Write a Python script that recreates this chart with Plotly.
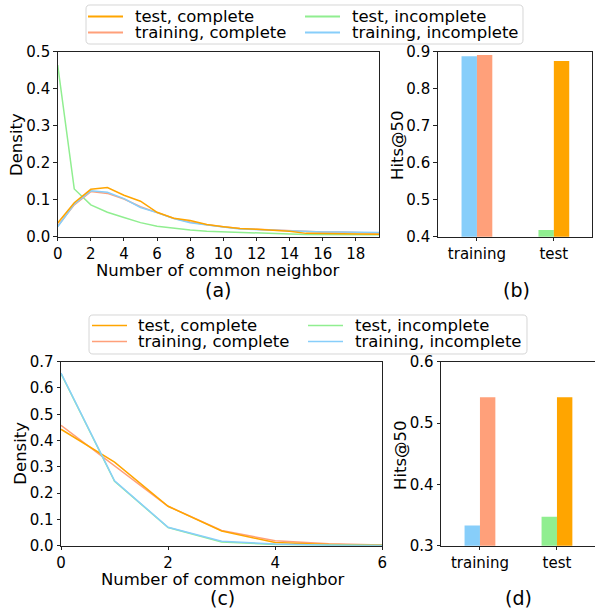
import plotly.graph_objects as go

W, H = 595, 609
FONT = "DejaVu Sans"

# ---------------- data ----------------
# (a) density of number of common neighbors (dataset 1)
cn_a = list(range(21))
a_test_complete = [0.037, 0.092, 0.128, 0.133, 0.112, 0.096, 0.066, 0.050, 0.044, 0.033, 0.027,
                   0.022, 0.020, 0.017, 0.015, 0.009, 0.008, 0.008, 0.007, 0.006, 0.006]
a_train_complete = [0.029, 0.086, 0.122, 0.117, 0.102, 0.081, 0.065, 0.050, 0.040, 0.032, 0.027,
                    0.022, 0.020, 0.018, 0.016, 0.014, 0.013, 0.013, 0.011, 0.010, 0.010]
a_test_incomplete = [0.464, 0.129, 0.086, 0.066, 0.052, 0.038, 0.028, 0.022, 0.018, 0.015, 0.013,
                     0.011, 0.009, 0.008, 0.007, 0.006, 0.006, 0.006, 0.006, 0.005, 0.005]
a_train_incomplete = [0.027, 0.088, 0.124, 0.120, 0.103, 0.079, 0.065, 0.049, 0.038, 0.031, 0.026,
                      0.021, 0.019, 0.018, 0.016, 0.014, 0.013, 0.013, 0.012, 0.011, 0.011]

# (b) Hits@50 (dataset 1)
categories = ["training", "test"]
b_incomplete = [0.888, 0.418]
b_complete = [0.891, 0.875]

# (c) density of number of common neighbors (dataset 2)
cn_c = [0, 1, 2, 3, 4, 5, 6]
c_test_complete = [0.443, 0.318, 0.150, 0.056, 0.012, 0.005, 0.002]
c_train_complete = [0.458, 0.305, 0.150, 0.058, 0.019, 0.007, 0.003]
c_test_incomplete = [0.655, 0.245, 0.069, 0.014, 0.005, 0.002, 0.001]
c_train_incomplete = [0.657, 0.247, 0.070, 0.017, 0.006, 0.002, 0.001]

# (d) Hits@50 (dataset 2)
d_incomplete = [0.333, 0.347]
d_complete = [0.542, 0.542]

ORANGE = "#FFA500"
SALMON = "#FFA07A"
GREEN = "#90EE90"
BLUE = "#87CEFA"

series_names = ["test, complete", "training, complete", "test, incomplete", "training, incomplete"]
series_colors = [ORANGE, SALMON, GREEN, BLUE]


def X(p):
    return p / W


def Y(p):
    return 1 - p / H


fig = go.Figure()

# (a) lines
for name, vals, col in [("test, incomplete", a_test_incomplete, GREEN),
                        ("training, complete", a_train_complete, SALMON),
                        ("training, incomplete", a_train_incomplete, BLUE),
                        ("test, complete", a_test_complete, ORANGE)]:
    fig.add_trace(go.Scatter(x=cn_a, y=vals, mode="lines", name=name, showlegend=False,
                             line=dict(color=col, width=1.5), xaxis="x", yaxis="y"))

# (b) bars
fig.add_trace(go.Bar(x=[0, 1], y=b_incomplete, name="incomplete", showlegend=False,
                     marker=dict(color=[BLUE, GREEN], line=dict(width=0)),
                     width=0.2, offset=-0.2, xaxis="x2", yaxis="y2"))
fig.add_trace(go.Bar(x=[0, 1], y=b_complete, name="complete", showlegend=False,
                     marker=dict(color=[SALMON, ORANGE], line=dict(width=0)),
                     width=0.2, offset=0.0, xaxis="x2", yaxis="y2"))

# (c) lines
for name, vals, col in [("training, complete", c_train_complete, SALMON),
                        ("test, complete", c_test_complete, ORANGE),
                        ("test, incomplete", c_test_incomplete, GREEN),
                        ("training, incomplete", c_train_incomplete, BLUE)]:
    fig.add_trace(go.Scatter(x=cn_c, y=vals, mode="lines", name=name, showlegend=False,
                             line=dict(color=col, width=1.5), xaxis="x3", yaxis="y3"))

# (d) bars
fig.add_trace(go.Bar(x=[0, 1], y=d_incomplete, name="incomplete", showlegend=False,
                     marker=dict(color=[BLUE, GREEN], line=dict(width=0)),
                     width=0.2, offset=-0.2, xaxis="x4", yaxis="y4"))
fig.add_trace(go.Bar(x=[0, 1], y=d_complete, name="complete", showlegend=False,
                     marker=dict(color=[SALMON, ORANGE], line=dict(width=0)),
                     width=0.2, offset=0.0, xaxis="x4", yaxis="y4"))

TICKFONT = dict(family=FONT, size=15, color="black")
common = dict(showgrid=False, zeroline=False, showline=True, linecolor="#222", linewidth=1,
              ticks="outside", ticklen=3.5, tickwidth=1, tickcolor="#222", tickfont=TICKFONT,
              automargin=False)

fig.update_layout(
    template="none",
    width=W, height=H, autosize=False,
    margin=dict(l=0, r=0, t=0, b=0, pad=0, autoexpand=False),
    paper_bgcolor="white", plot_bgcolor="white",
    font=dict(family=FONT, color="black"),
    barmode="overlay", showlegend=False,
    xaxis=dict(domain=[X(57.7), X(379)], range=[0, 19.4], tickvals=list(range(0, 19, 2)),
               mirror=True, anchor="y", **common),
    yaxis=dict(domain=[Y(236.7), Y(51.7)], range=[0, 0.5], tickvals=[0, 0.1, 0.2, 0.3, 0.4, 0.5],
               tickformat=".1f", mirror=True, anchor="x", **common),
    xaxis2=dict(domain=[X(437.7), X(592.3)], range=[-0.51, 1.5], tickvals=[0, 1], ticktext=categories,
                mirror=True, anchor="y2", **common),
    yaxis2=dict(domain=[Y(236.7), Y(51.7)], range=[0.4, 0.9], tickvals=[0.4, 0.5, 0.6, 0.7, 0.8, 0.9],
                tickformat=".1f", mirror=True, anchor="x2", **common),
    xaxis3=dict(domain=[X(61), X(382.3)], range=[0, 6], tickvals=[0, 2, 4, 6],
                mirror=True, anchor="y3", **common),
    yaxis3=dict(domain=[Y(545.7), Y(361.7)], range=[0, 0.7], tickvals=[0, 0.1, 0.2, 0.3, 0.4, 0.5, 0.6, 0.7],
                tickformat=".1f", mirror=True, anchor="x3", **common),
    xaxis4=dict(domain=[X(441), 1.0], range=[-0.506, 1.494], tickvals=[0, 1], ticktext=categories,
                mirror=True, anchor="y4", **common),
    yaxis4=dict(domain=[Y(545.7), Y(361.7)], range=[0.3, 0.6], tickvals=[0.3, 0.4, 0.5, 0.6],
                tickformat=".1f", mirror=False, anchor="x4", **common),
)

annotations = []
shapes = []


def text(x, y, s, size=16.5, angle=0, xanchor="center"):
    annotations.append(dict(x=X(x), y=Y(y), xref="paper", yref="paper", text=s, showarrow=False,
                            font=dict(family=FONT, size=size, color="black"), textangle=angle,
                            xanchor=xanchor, yanchor="middle", borderpad=0))


# axis titles
text(218, 270, "Number of common neighbor")
text(16, 145, "Density", angle=-90)
text(397, 145, "Hits@50", angle=-90)
text(222, 579.5, "Number of common neighbor")
text(19.7, 453, "Density", angle=-90)
text(400, 455, "Hits@50", angle=-90)

# captions
text(218, 290, "(a)", size=19)
text(516, 290, "(b)", size=19)
text(222, 597.5, "(c)", size=19)
text(518, 597.5, "(d)", size=19)


def rounded_rect(x0, x1, y0, y1, r=4):
    def P(x, y):
        return f"{X(x):.5f},{Y(y):.5f}"
    return (f"M {P(x0 + r, y0)} L {P(x1 - r, y0)} Q {P(x1, y0)} {P(x1, y0 + r)} "
            f"L {P(x1, y1 - r)} Q {P(x1, y1)} {P(x1 - r, y1)} "
            f"L {P(x0 + r, y1)} Q {P(x0, y1)} {P(x0, y1 - r)} "
            f"L {P(x0, y0 + r)} Q {P(x0, y0)} {P(x0 + r, y0)} Z")


def legend(box, rows, col_lines, col_text, lw):
    x0, x1, y0, y1 = box
    shapes.append(dict(type="path", xref="paper", yref="paper", path=rounded_rect(x0, x1, y0, y1),
                       line=dict(color="#d6d6d6", width=1), fillcolor="rgba(255,255,255,0.8)", layer="above"))
    k = 0
    for c in range(2):
        for r in range(2):
            name, col = series_names[k], series_colors[k]
            la, lb = col_lines[c]
            shapes.append(dict(type="line", xref="paper", yref="paper", x0=X(la), x1=X(lb),
                               y0=Y(rows[r]), y1=Y(rows[r]), line=dict(color=col, width=lw), layer="above"))
            text(col_text[c], rows[r], name, size=16.5, xanchor="left")
            k += 1


legend((86, 523, 5, 44), (16.5, 32.5), [(88, 123), (305, 340)], (134, 351), 2)
legend((89, 527, 315, 354), (325.5, 341.5), [(92, 127), (308, 343)], (137, 354), 1.5)

fig.update_layout(annotations=annotations, shapes=shapes)

# remove the browser's default 8px page margin so the figure sits at the window origin
fig.write_html("out.html",
               config={"displayModeBar": False},
               post_script="document.body.style.margin='0';document.body.style.overflow='hidden';")
